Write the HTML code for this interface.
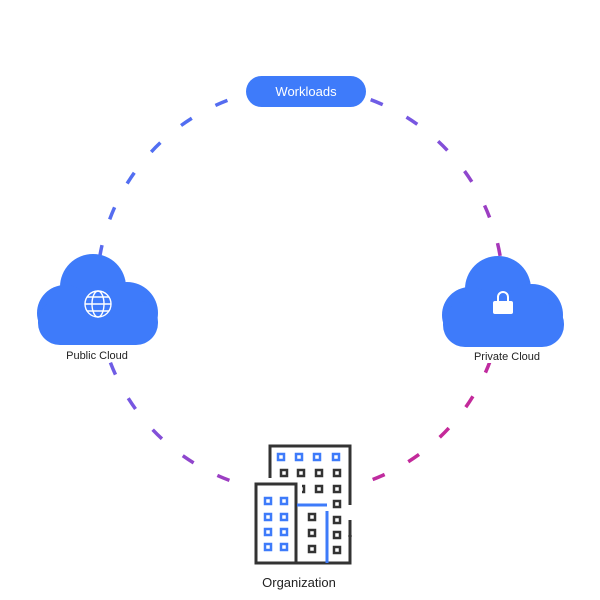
<!DOCTYPE html>
<html><head><style>body{margin:0;background:#fff}svg{display:block}text{font-family:"Liberation Sans",sans-serif}</style></head><body>
<svg width="600" height="600" viewBox="0 0 600 600">
<defs>
<linearGradient id="g2" x1="97" y1="90" x2="503" y2="490" gradientUnits="userSpaceOnUse">
<stop offset="0" stop-color="#3e7bfa"/><stop offset="0.45" stop-color="#7a55e0"/><stop offset="0.75" stop-color="#b030b0"/><stop offset="1" stop-color="#e0207a"/></linearGradient>
</defs>
<circle cx="300" cy="290" r="203" fill="none" stroke="url(#g2)" stroke-width="3.5" stroke-dasharray="13 26.85" stroke-dashoffset="-32.2"/>
<rect x="246" y="76" width="120" height="31" rx="15.5" fill="#3e7bfa"/>
<text x="306" y="96" font-size="13" fill="#fff" text-anchor="middle">Workloads</text>
<g fill="#3e7bfa">
<circle cx="93" cy="287" r="33"/><circle cx="65" cy="313" r="28"/><circle cx="127" cy="313" r="31"/><rect x="38" y="300" width="120" height="45" rx="22"/>
<circle cx="498" cy="289" r="33"/><circle cx="470" cy="315" r="28"/><circle cx="532" cy="315" r="31"/><rect x="443" y="302" width="121" height="45" rx="22"/>
</g>
<g fill="none" stroke="#fff" stroke-width="1.4">
<circle cx="98" cy="304" r="13"/><ellipse cx="98" cy="304" rx="6" ry="13"/><line x1="85" y1="304" x2="111" y2="304"/><path d="M87 297H109M87 311H109"/>
<path d="M498 302v-5a5 5 0 0 1 10 0v5" stroke-width="2"/>
</g>
<rect x="493" y="301" width="20" height="13" rx="2" fill="#fff"/>
<rect x="55" y="346" width="85" height="16" fill="#fff"/>
<rect x="465" y="347" width="85" height="16" fill="#fff"/>
<text x="97" y="359" font-size="11" fill="#222" text-anchor="middle">Public Cloud</text>
<text x="507" y="360" font-size="11" fill="#222" text-anchor="middle">Private Cloud</text>
<rect x="245" y="440" width="115" height="128" fill="#fff"/>
<g fill="none" stroke-width="3">
<path d="M270 478V446H350V505M350 520V563H297" stroke="#333"/>
<path d="M270 462v3" stroke="#333"/>
<rect x="256" y="484" width="40" height="79" stroke="#333"/>
<path d="M297 505H327M327 511V563" stroke="#3e7bfa"/>
</g>
<g fill="none" stroke-width="2.5" stroke="#3e7bfa">
<rect x="278" y="454" width="6" height="6"/><rect x="296" y="454" width="6" height="6"/><rect x="314" y="454" width="6" height="6"/><rect x="333" y="454" width="6" height="6"/>
<rect x="265" y="498" width="6" height="6"/><rect x="281" y="498" width="6" height="6"/>
<rect x="265" y="514" width="6" height="6"/><rect x="281" y="514" width="6" height="6"/>
<rect x="265" y="529" width="6" height="6"/><rect x="281" y="529" width="6" height="6"/>
<rect x="265" y="544" width="6" height="6"/><rect x="281" y="544" width="6" height="6"/>
</g>
<g fill="none" stroke-width="2.5" stroke="#333">
<rect x="281" y="470" width="6" height="6"/><rect x="298" y="470" width="6" height="6"/><rect x="316" y="470" width="6" height="6"/><rect x="334" y="470" width="6" height="6"/>
<rect x="316" y="486" width="6" height="6"/><rect x="334" y="486" width="6" height="6"/><path d="M302 486h2v6h-2"/>
<rect x="334" y="501" width="6" height="6"/><rect x="334" y="517" width="6" height="6"/><rect x="334" y="532" width="6" height="6"/><rect x="334" y="547" width="6" height="6"/>
<rect x="309" y="514" width="6" height="6"/><rect x="309" y="530" width="6" height="6"/><rect x="309" y="546" width="6" height="6"/>
</g>
<circle cx="350" cy="536" r="1.8" fill="#333"/>
<text x="299" y="587" font-size="13" fill="#222" text-anchor="middle">Organization</text>
</svg>
</body></html>
